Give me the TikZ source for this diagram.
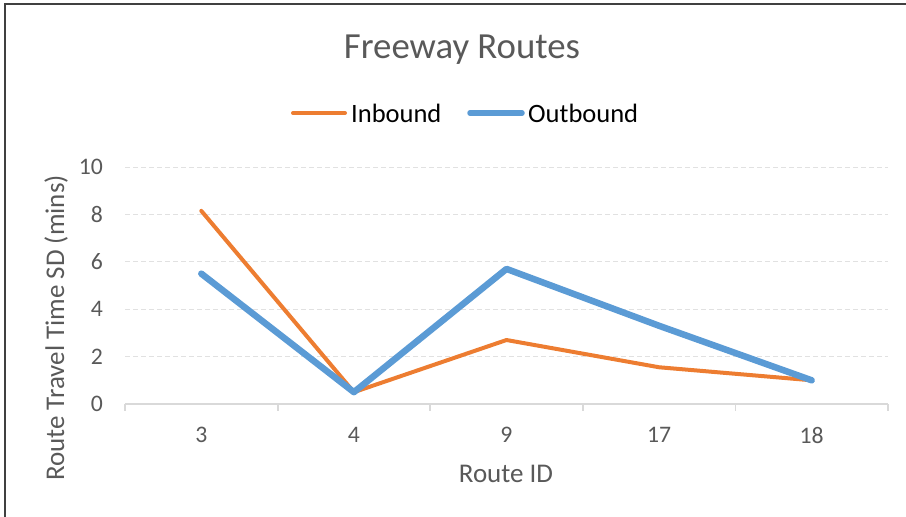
\documentclass[tikz,border=0pt]{standalone}
\usepackage{fontspec}
\setmainfont{Carlito}
\usetikzlibrary{positioning}
\definecolor{inorange}{HTML}{ED7D31}
\definecolor{outblue}{HTML}{5B9BD5}
\definecolor{txtgrey}{HTML}{595959}
\definecolor{gridgrey}{HTML}{D9D9D9}
\definecolor{framegrey}{HTML}{404040}
\tikzstyle{inbound} = [draw=inorange, line width=4pt, line join=round, line cap=round]
\tikzstyle{outbound} = [draw=outblue, line width=6.5pt, line join=round, line cap=round]
\tikzstyle{gridline} = [draw=gridgrey!80, line width=1pt, dash pattern=on 5pt off 3pt]
\tikzstyle{axisline} = [draw=gridgrey, line width=1.8pt]
\tikzstyle{ticklabel} = [text=txtgrey, inner sep=0pt, font=\fontsize{23.7}{28}\selectfont]
\tikzstyle{axistitle} = [text=txtgrey, inner sep=0pt, font=\fontsize{27}{30}\selectfont]
\tikzstyle{legendtext} = [text=black, inner sep=0pt, font=\fontsize{26.5}{30}\selectfont]

\begin{document}
\begin{tikzpicture}[x=1pt, y=-1pt]
                \useasboundingbox (0,0) rectangle (906,517);
                \draw [framegrey, line width=1.5pt] (5,517) -- (5,4) -- (906,4);

                \node (title) [text=txtgrey, font=\fontsize{36.8}{40}\selectfont] at (462,50) {Freeway Routes};

                % legend
                \coordinate (inA) at (293,113);
                \coordinate (inB) at (345,113);
                \coordinate (outA) at (470,113);
                \coordinate (outB) at (522,113);
                \draw [inbound] (inA) -- (inB);
                \draw [outbound, line width=5.5pt] (outA) -- (outB);
                \node (inlabel) [legendtext, right=6pt of inB] {Inbound};
                \node (outlabel) [legendtext, right=6pt of outB] {Outbound};

                \begin{scope}[shift={(125,404)}, x=152.6pt, y=23.7pt]
                    % grid and axis
                    \draw [gridline] (0,2) -- (5,2);
                    \draw [gridline] (0,4) -- (5,4);
                    \draw [gridline] (0,6) -- (5,6);
                    \draw [gridline] (0,8) -- (5,8);
                    \draw [gridline] (0,10) -- (5,10);
                    \draw [axisline] (0,0) -- (5,0);
                    \draw [axisline] (0,0) -- ++(0,-7pt) (1,0) -- ++(0,-7pt) (2,0) -- ++(0,-7pt)
                        (3,0) -- ++(0,-7pt) (4,0) -- ++(0,-7pt) (5,0) -- ++(0,-7pt);

                    \node (y0) [ticklabel, anchor=east] at ([xshift=-22pt]0,0) {0};
                    \node (y2) [ticklabel, anchor=east] at ([xshift=-22pt]0,2) {2};
                    \node (y4) [ticklabel, anchor=east] at ([xshift=-22pt]0,4) {4};
                    \node (y6) [ticklabel, anchor=east] at ([xshift=-22pt]0,6) {6};
                    \node (y8) [ticklabel, anchor=east] at ([xshift=-22pt]0,8) {8};
                    \node (y10) [ticklabel, anchor=east] at ([xshift=-22pt]0,10) {10};

                    \node (x3) [ticklabel] at ([yshift=-31pt]0.5,0) {3};
                    \node (x4) [ticklabel] at ([yshift=-31pt]1.5,0) {4};
                    \node (x9) [ticklabel] at ([yshift=-31pt]2.5,0) {9};
                    \node (x17) [ticklabel] at ([yshift=-31pt]3.5,0) {17};
                    \node (x18) [ticklabel] at ([yshift=-31pt]4.5,0) {18};

                    % series
                    \draw [inbound] (0.5,8.15) -- (1.5,0.5) -- (2.5,2.7) -- (3.5,1.55) -- (4.5,1.0);
                    \draw [outbound] (0.5,5.5) -- (1.5,0.5) -- (2.5,5.7) -- (3.5,3.3) -- (4.5,1.0);
                \end{scope}

                \node (xtitle) [axistitle] at (506,474) {Route ID};
                \node (ytitle) [axistitle, rotate=90] at (56,328) {Route Travel Time SD (mins)};
            \end{tikzpicture}
\end{document}
